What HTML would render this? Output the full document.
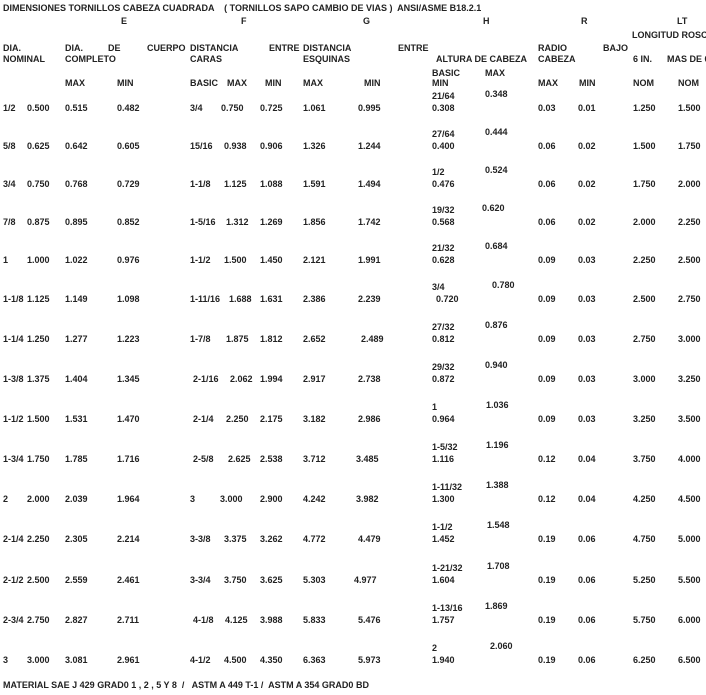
<!DOCTYPE html>
<html><head><meta charset="utf-8"><style>
body{margin:0;width:706px;height:695px;background:#fff;position:relative;overflow:hidden;font-family:"Liberation Sans",Arial,sans-serif;font-weight:bold;font-size:9px;color:#222}
span{position:absolute;white-space:pre;line-height:10px}
</style></head><body>
<div id="c"></div>
<script>
var c=document.getElementById('c');
function t(x,y,s){var e=document.createElement('span');e.style.left=x+'px';e.style.top=(y-5)+'px';e.textContent=s;c.appendChild(e);}
t(3,8,"DIMENSIONES TORNILLOS CABEZA CUADRADA    ( TORNILLOS SAPO CAMBIO DE VIAS )  ANSI/ASME B18.2.1");
t(121,21,"E");t(241,21,"F");t(363,21,"G");t(483,21,"H");t(581,21,"R");t(677,21,"LT");
t(632,35,"LONGITUD ROSCA");
t(3,48,"DIA.");t(65,48,"DIA.");t(108,48,"DE");t(147,48,"CUERPO");t(190,48,"DISTANCIA");t(269,48,"ENTRE");t(303,48,"DISTANCIA");t(398,48,"ENTRE");t(538,48,"RADIO");t(603,48,"BAJO");
t(3,59,"NOMINAL");t(65,59,"COMPLETO");t(190,59,"CARAS");t(303,59,"ESQUINAS");t(436,59,"ALTURA DE CABEZA");t(538,59,"CABEZA");t(633,59,"6 IN.");t(667,59,"MAS DE 6");
t(432,73,"BASIC");t(485,73,"MAX");
t(432,83,"MIN");
[[65,"MAX"],[117,"MIN"],[190,"BASIC"],[227,"MAX"],[265,"MIN"],[303,"MAX"],[364,"MIN"],[538,"MAX"],[579,"MIN"],[633,"NOM"],[678,"NOM"]].forEach(function(a){t(a[0],83,a[1]);});
var ys=[108,146,184,222,260,299,339,379,419,459,499,539,580,620,660];
var R=[
["1/2","0.500","0.515","0.482","3/4",190,"0.750",221,"0.725","1.061","0.995",358,"21/64","0.348",485,"0.308",432,"0.03","0.01","1.250","1.500"],
["5/8","0.625","0.642","0.605","15/16",190,"0.938",224,"0.906","1.326","1.244",358,"27/64","0.444",485,"0.400",432,"0.06","0.02","1.500","1.750"],
["3/4","0.750","0.768","0.729","1-1/8",190,"1.125",224,"1.088","1.591","1.494",358,"1/2","0.524",485,"0.476",432,"0.06","0.02","1.750","2.000"],
["7/8","0.875","0.895","0.852","1-5/16",190,"1.312",226,"1.269","1.856","1.742",358,"19/32","0.620",482,"0.568",432,"0.06","0.02","2.000","2.250"],
["1","1.000","1.022","0.976","1-1/2",190,"1.500",224,"1.450","2.121","1.991",358,"21/32","0.684",485,"0.628",432,"0.09","0.03","2.250","2.500"],
["1-1/8","1.125","1.149","1.098","1-11/16",190,"1.688",229,"1.631","2.386","2.239",358,"3/4","0.780",492,"0.720",436,"0.09","0.03","2.500","2.750"],
["1-1/4","1.250","1.277","1.223","1-7/8",190,"1.875",226,"1.812","2.652","2.489",361,"27/32","0.876",485,"0.812",432,"0.09","0.03","2.750","3.000"],
["1-3/8","1.375","1.404","1.345","2-1/16",193,"2.062",230,"1.994","2.917","2.738",358,"29/32","0.940",485,"0.872",432,"0.09","0.03","3.000","3.250"],
["1-1/2","1.500","1.531","1.470","2-1/4",193,"2.250",226,"2.175","3.182","2.986",358,"1","1.036",486,"0.964",432,"0.09","0.03","3.250","3.500"],
["1-3/4","1.750","1.785","1.716","2-5/8",193,"2.625",228,"2.538","3.712","3.485",356,"1-5/32","1.196",486,"1.116",432,"0.12","0.04","3.750","4.000"],
["2","2.000","2.039","1.964","3",190,"3.000",220,"2.900","4.242","3.982",356,"1-11/32","1.388",486,"1.300",432,"0.12","0.04","4.250","4.500"],
["2-1/4","2.250","2.305","2.214","3-3/8",190,"3.375",224,"3.262","4.772","4.479",358,"1-1/2","1.548",487,"1.452",432,"0.19","0.06","4.750","5.000"],
["2-1/2","2.500","2.559","2.461","3-3/4",190,"3.750",224,"3.625","5.303","4.977",354,"1-21/32","1.708",487,"1.604",432,"0.19","0.06","5.250","5.500"],
["2-3/4","2.750","2.827","2.711","4-1/8",193,"4.125",225,"3.988","5.833","5.476",358,"1-13/16","1.869",485,"1.757",432,"0.19","0.06","5.750","6.000"],
["3","3.000","3.081","2.961","4-1/2",190,"4.500",224,"4.350","6.363","5.973",358,"2","2.060",490,"1.940",432,"0.19","0.06","6.250","6.500"]];
R.forEach(function(r,i){var y=ys[i];
t(3,y,r[0]);t(27,y,r[1]);t(65,y,r[2]);t(117,y,r[3]);t(r[5],y,r[4]);t(r[7],y,r[6]);t(260,y,r[8]);t(303,y,r[9]);t(r[11],y,r[10]);
t(432,y-12,r[12]);t(r[14],y-14,r[13]);t(r[16],y,r[15]);t(538,y,r[17]);t(578,y,r[18]);t(633,y,r[19]);t(678,y,r[20]);});
t(3,685,"MATERIAL SAE J 429 GRAD0 1 , 2 , 5 Y 8  /   ASTM A 449 T-1 /  ASTM A 354 GRAD0 BD");
</script>
</body></html>
